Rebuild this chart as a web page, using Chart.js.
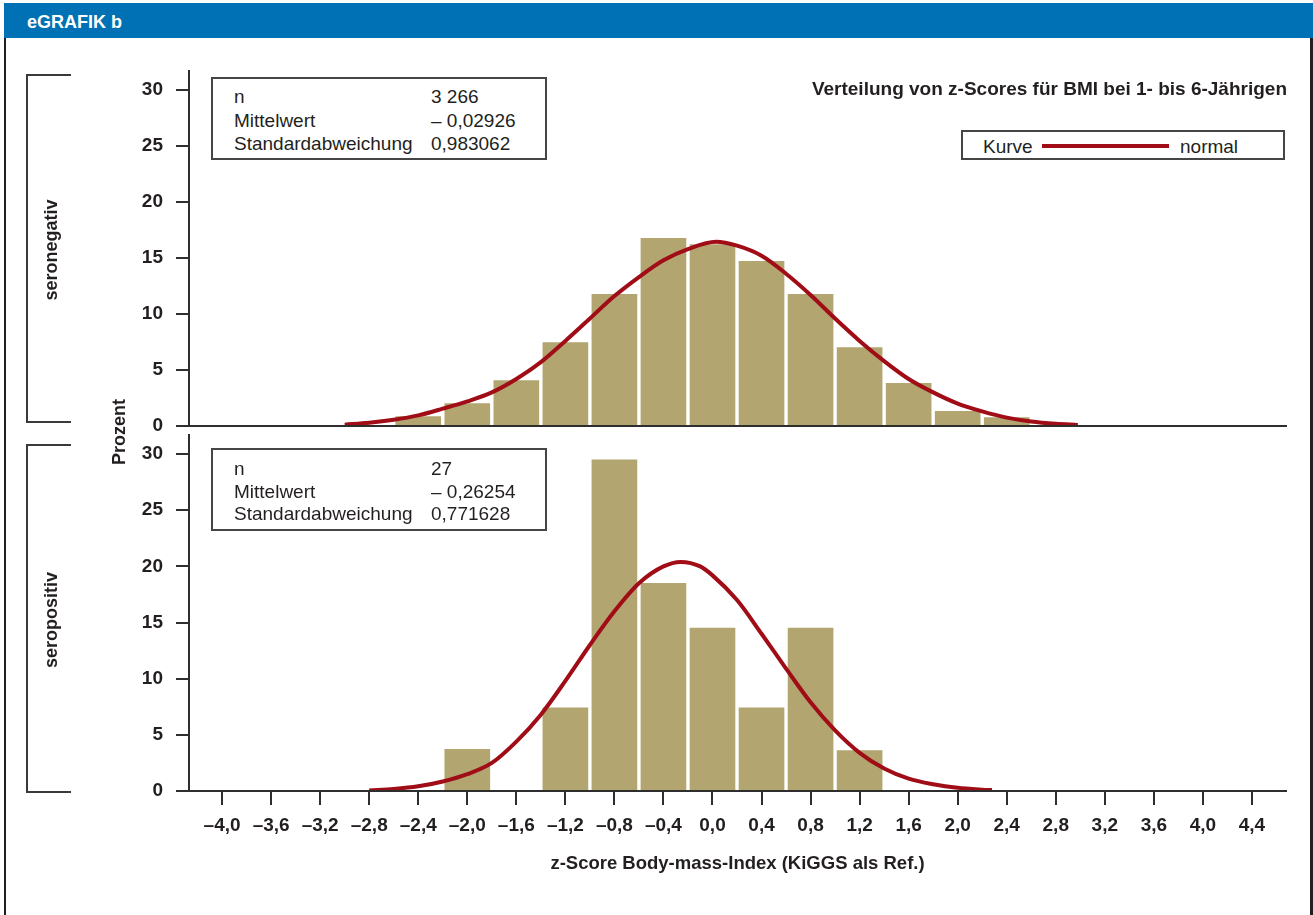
<!DOCTYPE html>
<html lang="de">
<head>
<meta charset="utf-8">
<title>eGRAFIK b – Verteilung von z-Scores für BMI</title>
<script src="https://cdn.jsdelivr.net/npm/chart.js@4.4.1/dist/chart.umd.min.js"></script>
<style>
  html, body { margin: 0; padding: 0; background: #fff; }
  #page { position: relative; width: 1313px; height: 915px; overflow: hidden;
          font-family: "Liberation Sans", Arial, sans-serif; color: #231f20; }
  #page canvas { position: absolute; left: 0; top: 0; }
  .abs { position: absolute; white-space: nowrap; }
  #hdr { left: 4px; top: 3px; width: 1309px; height: 35px; background: #0071b4; }
  #hdrText { left: 27px; top: 13px; font-size: 18px; line-height: 18px; font-weight: bold; color: #fff; }
  #frame { left: 4px; top: 38px; width: 1304px; height: 877px;
           border-left: 2px solid #231f20; border-right: 3px solid #231f20; }
  #title { right: 26px; top: 79px; font-size: 19px; line-height: 19px; font-weight: bold; }
  .box { position: absolute; box-sizing: border-box; border: 2px solid #454545; background: #fff; }
  .txt { position: absolute; white-space: nowrap; font-size: 19px; line-height: 19px; }
  .bracket { position: absolute; box-sizing: border-box; left: 26px; width: 45px; height: 349px;
             border: 2px solid #3a3a3a; border-right: none; }
  .rot { position: absolute; white-space: nowrap; font-size: 18px; line-height: 18px; font-weight: bold;
         transform: translate(-50%, -50%) rotate(-90deg); }
  #legLine { position: absolute; left: 1042px; top: 144px; width: 127px; height: 4px; background: #a00d17; }
</style>
</head>
<body>
<div id="page">
  <div id="hdr" class="abs"></div>
  <div id="hdrText" class="abs">eGRAFIK b</div>
  <div id="frame" class="abs"></div>

  <canvas id="chartNeg" width="1313" height="915"></canvas>
  <canvas id="chartPos" width="1313" height="915"></canvas>

  <div id="title" class="abs">Verteilung von z-Scores für BMI bei 1- bis 6-Jährigen</div>

  <div class="box" style="left:961px;top:130px;width:324px;height:30px;"></div>
  <div class="txt" id="legLeft" style="left:983px;top:137px;">Kurve</div>
  <div id="legLine"></div>
  <div class="txt" id="legRight" style="left:1180px;top:137px;">normal</div>

  <div class="box" id="statsNeg" style="left:211px;top:77px;width:336px;height:83px;"></div>
  <div class="box" id="statsPos" style="left:211px;top:448px;width:336px;height:83px;"></div>

  <div class="bracket" style="top:74px;"></div>
  <div class="bracket" style="top:444px;"></div>
  <div class="rot" style="left:50.5px;top:250px;">seronegativ</div>
  <div class="rot" style="left:50.5px;top:620px;">seropositiv</div>
  <div class="rot" style="left:119px;top:432px;">Prozent</div>
</div>

<script>
// Histogram classes (class centres in z-score units) and their shares in percent
const binCentersNeg = [-2.4, -2.0, -1.6, -1.2, -0.8, -0.4, 0.0, 0.4, 0.8, 1.2, 1.6, 2.0, 2.4];
const percentNeg    = [0.85, 2.0, 4.05, 7.45, 11.75, 16.75, 16.2, 14.7, 11.75, 7.0, 3.8, 1.3, 0.75];

const binCentersPos = [-2.0, -1.2, -0.8, -0.4, 0.0, 0.4, 0.8, 1.2];
const percentPos    = [3.7, 7.4, 29.5, 18.5, 14.5, 7.4, 14.5, 3.6];

// Normal curves, sampled along the z-score axis
const curveXNeg = [-3.0, -2.8, -2.6, -2.4, -2.2, -2.0, -1.8, -1.6, -1.4, -1.2, -1.0, -0.8, -0.6, -0.4, -0.2, 0.03,
                   0.2, 0.4, 0.6, 0.8, 1.0, 1.2, 1.4, 1.6, 1.8, 2.0, 2.2, 2.4, 2.6, 2.8, 2.98];
const curveYNeg = [0.12, 0.28, 0.55, 0.95, 1.55, 2.2, 3.0, 4.2, 5.7, 7.6, 9.6, 11.6, 13.3, 14.8, 15.8, 16.45,
                   16.1, 15.2, 13.6, 11.7, 9.6, 7.6, 5.8, 4.2, 3.0, 2.0, 1.3, 0.75, 0.4, 0.2, 0.1];

const curveXPos = [-2.8, -2.6, -2.4, -2.2, -2.0, -1.8, -1.6, -1.4, -1.2, -1.0, -0.8, -0.6, -0.4, -0.26,
                   -0.1, 0.0, 0.2, 0.4, 0.6, 0.8, 1.0, 1.2, 1.4, 1.6, 1.8, 2.0, 2.2, 2.28];
const curveYPos = [0.05, 0.18, 0.42, 0.85, 1.5, 2.5, 4.4, 6.8, 9.8, 13.0, 16.0, 18.5, 20.0, 20.4,
                   20.0, 19.2, 17.0, 14.0, 10.9, 7.9, 5.4, 3.4, 2.0, 1.1, 0.6, 0.28, 0.12, 0.08];

// Axis ticks
const xTickValues = [-4.0, -3.6, -3.2, -2.8, -2.4, -2.0, -1.6, -1.2, -0.8, -0.4, 0.0,
                     0.4, 0.8, 1.2, 1.6, 2.0, 2.4, 2.8, 3.2, 3.6, 4.0, 4.4];
const xTickLabels = ['–4,0', '–3,6', '–3,2', '–2,8', '–2,4', '–2,0', '–1,6', '–1,2', '–0,8', '–0,4', '0,0',
                     '0,4', '0,8', '1,2', '1,6', '2,0', '2,4', '2,8', '3,2', '3,6', '4,0', '4,4'];
const yTickValues = [0, 5, 10, 15, 20, 25, 30];
const yTickLabels = ['0', '5', '10', '15', '20', '25', '30'];

// Summary statistics per group
const statNames = ['n', 'Mittelwert', 'Standardabweichung'];
const statsNeg  = ['3 266', '– 0,02926', '0,983062'];
const statsPos  = ['27', '– 0,26254', '0,771628'];

const xTitle = 'z-Score Body-mass-Index (KiGGS als Ref.)';

const BAR = '#b2a570';
const CURVE = '#a00d17';
const AXIS = '#2e2e2e';
const TEXT = '#231f20';
const X_MIN = -4.27, X_MAX = 4.678, Y_MAX = 31.7;

Chart.defaults.font.family = '"Liberation Sans", Arial, sans-serif';
Chart.defaults.color = TEXT;

function fillStats(boxId, values, firstTop, step) {
  const page = document.getElementById('page');
  const box = document.getElementById(boxId);
  const left = box.offsetLeft;
  statNames.forEach((name, i) => {
    const top = firstTop + i * step;
    const a = document.createElement('div');
    a.className = 'txt'; a.textContent = name;
    a.style.left = (left + 23) + 'px'; a.style.top = top + 'px';
    const b = document.createElement('div');
    b.className = 'txt'; b.textContent = values[i];
    b.style.left = (left + 220) + 'px'; b.style.top = top + 'px';
    page.appendChild(a); page.appendChild(b);
  });
}
fillStats('statsNeg', statsNeg, 87.2, 23.4);
fillStats('statsPos', statsPos, 459, 22.5);

function drawPanel(canvasId, cfg) {
  const xAxisH = cfg.showTicks ? 88 : 0;
  return new Chart(document.getElementById(canvasId), {
    type: 'bar',
    data: {
      datasets: [
        {
          type: 'line',
          label: 'normal',
          data: cfg.cx.map((x, i) => ({ x: x, y: cfg.cy[i] })),
          borderColor: CURVE,
          borderWidth: 4,
          pointRadius: 0,
          fill: false,
          cubicInterpolationMode: 'monotone',
          order: 0
        },
        {
          type: 'bar',
          label: cfg.name,
          data: cfg.bins.map((x, i) => ({ x: x, y: cfg.pct[i] })),
          backgroundColor: BAR,
          borderWidth: 0,
          barThickness: 45,
          order: 1
        }
      ]
    },
    options: {
      responsive: false,
      animation: false,
      events: [],
      devicePixelRatio: 1,
      layout: {
        padding: { left: 189 - 60, right: 1313 - 1286, top: cfg.top, bottom: 915 - cfg.bottom - xAxisH }
      },
      plugins: { legend: { display: false }, tooltip: { enabled: false }, title: { display: false } },
      scales: {
        x: {
          type: 'linear',
          min: X_MIN,
          max: X_MAX,
          offset: false,
          afterBuildTicks: s => { s.ticks = xTickValues.map(v => ({ value: v })); },
          afterFit: s => { s.height = xAxisH; },
          ticks: {
            display: cfg.showTicks,
            autoSkip: false,
            maxRotation: 0,
            padding: 9,
            color: TEXT,
            font: { size: 19, weight: 'bold' },
            callback: (v, i) => xTickLabels[i]
          },
          grid: {
            display: cfg.showTicks, offset: false, drawOnChartArea: false, drawTicks: true,
            tickLength: 14, lineWidth: 2, color: AXIS
          },
          border: { display: true, width: 2, color: AXIS, z: 1 },
          title: {
            display: cfg.showTicks,
            text: xTitle,
            color: TEXT,
            font: { size: 18.5, weight: 'bold' },
            padding: { top: 0, bottom: 4 }
          }
        },
        y: {
          type: 'linear',
          min: 0,
          max: Y_MAX,
          afterBuildTicks: s => { s.ticks = yTickValues.map(v => ({ value: v })); },
          afterFit: s => { s.width = 60; },
          ticks: {
            padding: 13,
            color: TEXT,
            font: { size: 19, weight: 'bold' },
            callback: (v, i) => yTickLabels[i]
          },
          grid: { drawOnChartArea: false, drawTicks: true, tickLength: 13, lineWidth: 2, color: AXIS },
          border: { display: true, width: 2, color: AXIS }
        }
      }
    }
  });
}

drawPanel('chartNeg', {
  name: 'seronegativ', bins: binCentersNeg, pct: percentNeg, cx: curveXNeg, cy: curveYNeg,
  top: 71, bottom: 426, showTicks: false
});
drawPanel('chartPos', {
  name: 'seropositiv', bins: binCentersPos, pct: percentPos, cx: curveXPos, cy: curveYPos,
  top: 435, bottom: 791, showTicks: true
});
</script>
</body>
</html>
